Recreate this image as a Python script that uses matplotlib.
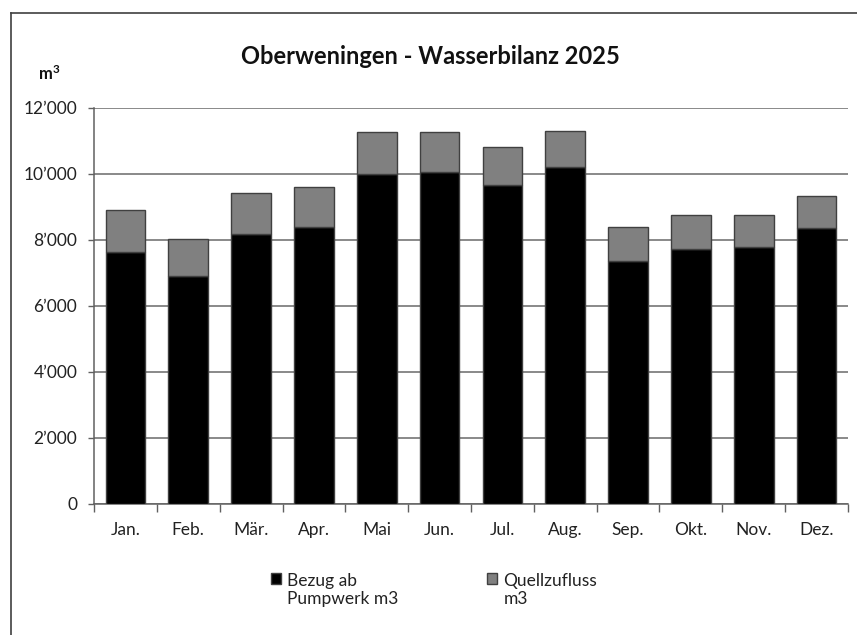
import matplotlib
matplotlib.use("Agg")
import matplotlib.pyplot as plt
from matplotlib.lines import Line2D
from matplotlib.patches import Rectangle
from matplotlib.legend_handler import HandlerPatch
from matplotlib.ticker import FuncFormatter, FixedLocator, NullFormatter
import numpy as np

months = ["Jan.", "Feb.", "Mär.", "Apr.", "Mai", "Jun.", "Jul.", "Aug.", "Sep.", "Okt.", "Nov.", "Dez."]
bezug = [7620, 6900, 8180, 8380, 10000, 10060, 9650, 10200, 7355, 7710, 7790, 8365]
quelle = [1280, 1110, 1235, 1210, 1255, 1195, 1170, 1100, 1030, 1030, 950, 960]
yticks = [0, 2000, 4000, 6000, 8000, 10000, 12000]
series_labels = ["Bezug ab\nPumpwerk m3", "Quellzufluss\nm3"]

plt.rcParams['font.family'] = ['Lato', 'DejaVu Sans']
plt.rcParams['mathtext.fontset'] = 'custom'
plt.rcParams['mathtext.rm'] = 'Lato'
plt.rcParams['mathtext.bf'] = 'Lato:bold'

fig = plt.figure(figsize=(8.57, 6.35), dpi=100)
ax = fig.add_axes([94/857, 1-504/635, (848-94)/857, (504-107.7)/635])

x = np.arange(len(months))
w = 0.63
b1 = ax.bar(x, bezug, width=w, color="#000000", edgecolor="#404040", linewidth=1.0,
            label=series_labels[0], zorder=3)
b2 = ax.bar(x, quelle, width=w, bottom=bezug, color="#808080", edgecolor="#404040",
            linewidth=1.0, label=series_labels[1], zorder=3)

ax.set_xlim(-0.5, len(months) - 0.5)
ax.set_ylim(0, 12000)
ax.set_yticks(yticks)
ax.yaxis.set_major_formatter(FuncFormatter(lambda v, p: f"{int(v):,}".replace(",", "’")))
ax.set_xticks(x)
ax.set_xticklabels(months)
ax.xaxis.set_minor_locator(FixedLocator(np.arange(-0.5, len(months), 1.0)))
ax.xaxis.set_minor_formatter(NullFormatter())
ax.tick_params(axis="x", which="major", length=0, pad=13, labelsize=12.5, colors="#222222")
ax.tick_params(axis="x", which="minor", length=5.5, width=1, color="#606060", direction="out")
ax.tick_params(axis="y", which="major", length=4, width=1, color="#606060", pad=8,
               labelsize=12.5, labelcolor="#222222")
ax.grid(axis="y", color="#6a6a6a", linewidth=1.1, zorder=0)
ax.set_axisbelow(True)
for s in ["top", "right"]:
    ax.spines[s].set_visible(False)
for s in ["left", "bottom"]:
    ax.spines[s].set_color("#606060")
    ax.spines[s].set_linewidth(1.1)

fig.text(0.502, 1-57/635, "Oberweningen - Wasserbilanz 2025", ha="center", va="center",
         fontsize=17, fontweight="bold", color="#111111")
fig.text(38/857, 1-80/635, r"m$\mathbf{^3}$", ha="left", va="baseline", fontsize=12,
         fontweight="bold", color="#111111")


def top_square(legend, orig_handle, xdescent, ydescent, width, height, fontsize):
    return Rectangle((-xdescent, -ydescent + 0.66 * fontsize), width, height)


fs = 12.5
fig.legend(handles=[b1.patches[0], b2.patches[0]], labels=series_labels,
           loc="center left", bbox_to_anchor=(255/857, 1-590/635), ncol=2,
           frameon=False, fontsize=fs, handlelength=0.6, handleheight=0.6, handletextpad=0.35,
           columnspacing=5.1, labelspacing=0.2, labelcolor="#222222",
           handler_map={Rectangle: HandlerPatch(patch_func=top_square)})

# outer frame (partially visible)
fig.add_artist(Line2D([10.5/857, 10.5/857], [0, 1-13/635], color="#404040", linewidth=1.2,
                      transform=fig.transFigure))
fig.add_artist(Line2D([10.5/857, 1], [1-13/635, 1-13/635], color="#404040", linewidth=1.2,
                      transform=fig.transFigure))

fig.savefig("out.png", dpi=100)
